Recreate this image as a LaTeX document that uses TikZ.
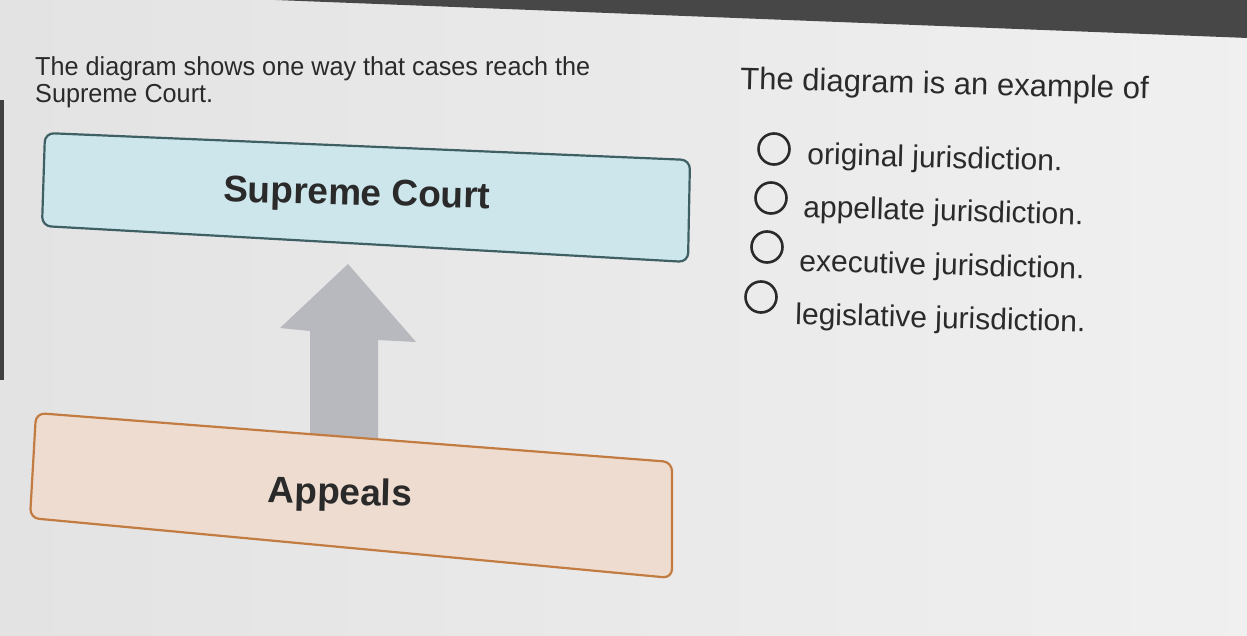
\documentclass[tikz,border=0pt]{standalone}
\usepackage{fontspec}
\setmainfont{Liberation Sans}
\newfontfamily\narrowsans{Liberation Sans}[FakeStretch=0.97]
\definecolor{scfill}{HTML}{CDE6EC}
\definecolor{scdraw}{HTML}{3E5F64}
\definecolor{apfill}{HTML}{EEDCD0}
\definecolor{apdraw}{HTML}{C27C42}
\definecolor{arrowgray}{HTML}{B8B8BF}
\definecolor{inkc}{HTML}{2A2A2A}
\begin{document}
\begin{tikzpicture}[x=1pt,y=-1pt,
  txt/.style={anchor=base west,inner sep=0pt,text=inkc,font=\narrowsans\fontsize{26}{30}\selectfont},
  opt/.style={anchor=base west,inner sep=0pt,text=inkc,font=\fontsize{30}{34}\selectfont,rotate=-1.6},
  radio/.style={circle,draw=inkc,line width=2.6pt,minimum size=31pt,inner sep=0pt},
  boxlabel/.style={inner sep=0pt,text=inkc,font=\bfseries\fontsize{37}{42}\selectfont,rotate=-1.5}]
\useasboundingbox (0,0) rectangle (1247,636);
\shade[left color=black!11,right color=black!6] (0,0) rectangle (1247,636);
% screen bezel
\fill[black!72] (250,-1) -- (1248,-1) -- (1248,38) -- cycle;
\fill[black!75] (-1,100) rectangle (4,380);
% question text
\node[txt] (q1) at (35,76) {The diagram shows one way that cases reach the};
\node[txt] (q2) at (35,103) {Supreme Court.};
\node[anchor=base west,inner sep=0pt,text=inkc,font=\fontsize{31}{34}\selectfont,rotate=-1.4] (q3) at (740,89) {The diagram is an example of};
% options
\node[radio] (r1) at (774,149) {};
\node[radio] (r2) at (771,198) {};
\node[radio] (r3) at (767,247) {};
\node[radio] (r4) at (761,297) {};
\node[opt] (o1) at (807,164) {original jurisdiction.};
\node[opt] (o2) at (803,217) {appellate jurisdiction.};
\node[opt] (o3) at (799,271) {executive jurisdiction.};
\node[opt] (o4) at (795,324) {legislative jurisdiction.};
% Supreme Court box
\coordinate (s1) at (45,133); \coordinate (s2) at (690,160);
\coordinate (s3) at (688,262); \coordinate (s4) at (42,226);
\draw[rounded corners=9pt,fill=scfill,draw=scdraw,line width=2.2pt]
  (s1) -- (s2) -- (s3) -- (s4) -- cycle;
\node[boxlabel] (sc) at (357,196) {Supreme Court};
% arrow from Appeals up to Supreme Court
\coordinate (tip) at (348,264);
\fill[arrowgray] (tip) -- (416,342) -- (378,340) -- (378,445) -- (310,445) -- (310,331) -- (280,328) -- cycle;
% Appeals box
\coordinate (a1) at (36,413); \coordinate (a2) at (672,462);
\coordinate (a3) at (672,578); \coordinate (a4) at (30,518);
\draw[rounded corners=9pt,fill=apfill,draw=apdraw,line width=2.2pt]
  (a1) -- (a2) -- (a3) -- (a4) -- cycle;
\node[boxlabel] (ap) at (340,495) {Appeals};
\end{tikzpicture}
\end{document}
